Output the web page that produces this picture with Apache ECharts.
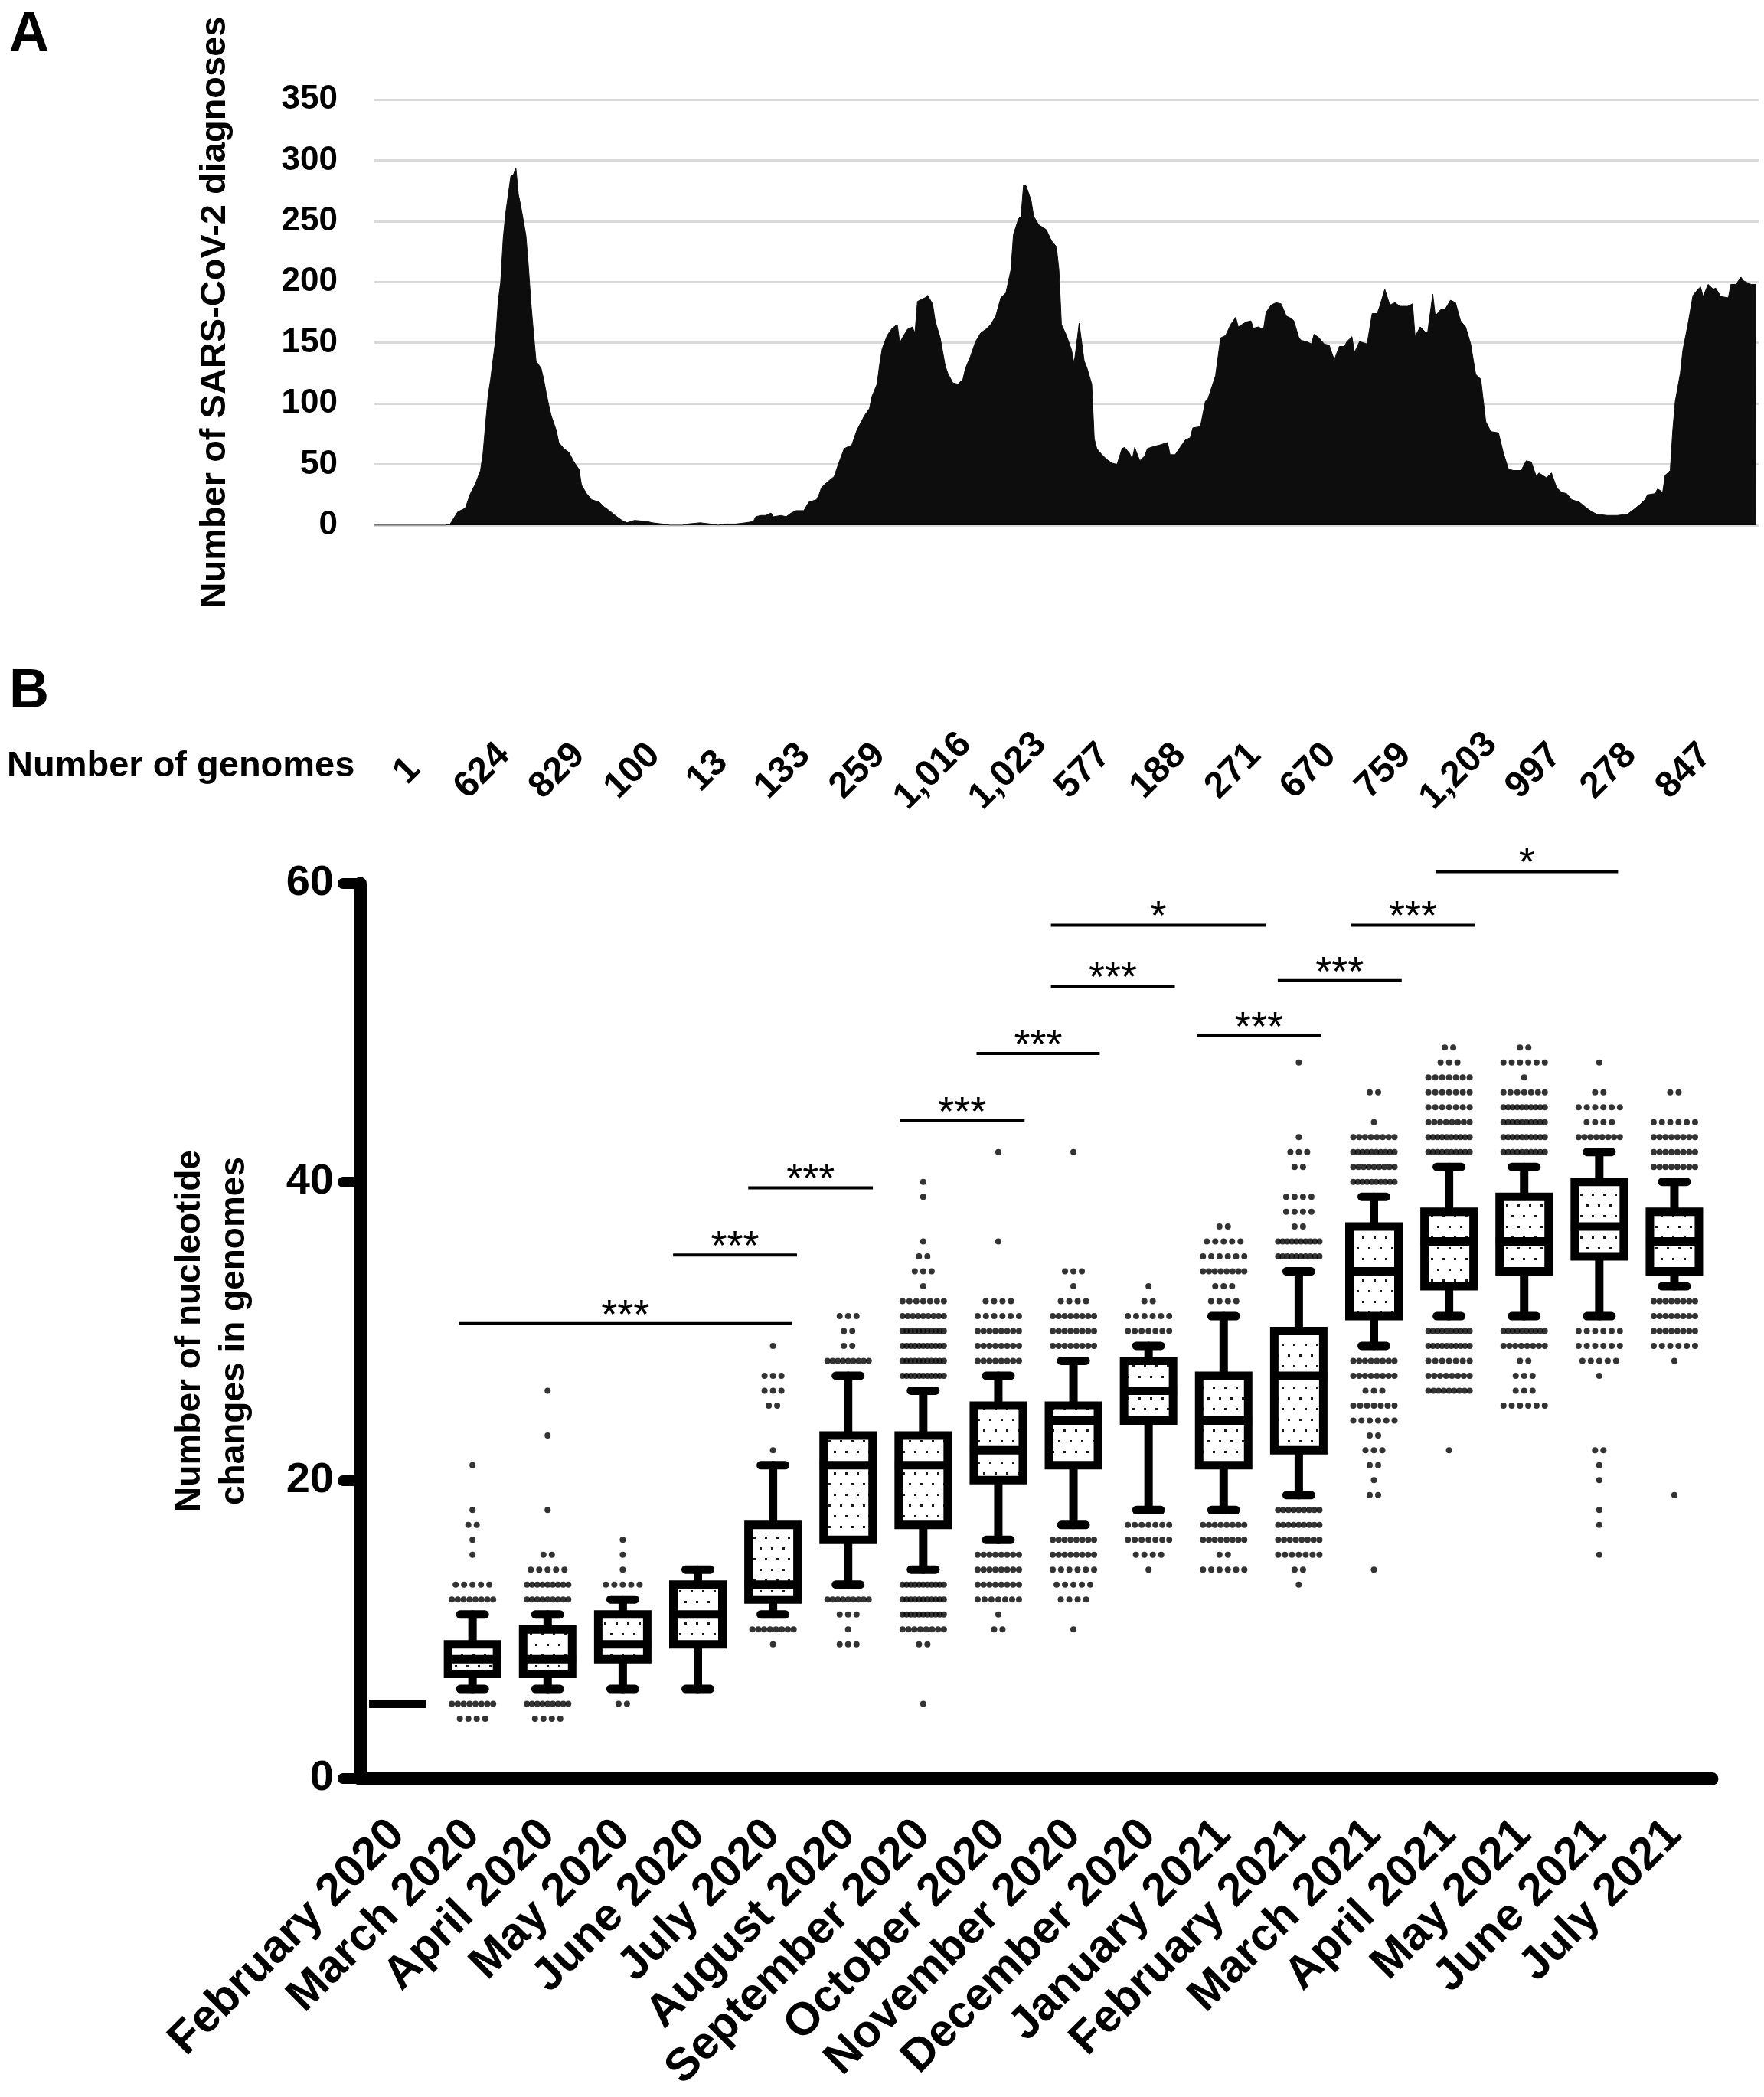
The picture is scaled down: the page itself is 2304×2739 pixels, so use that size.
<!DOCTYPE html>
<html>
<head>
<meta charset="utf-8">
<script src="https://cdn.jsdelivr.net/npm/echarts@6/dist/echarts.min.js"></script>
<style>
html, body { margin: 0; padding: 0; background: #fff; }
#main { width: 2304px; height: 2739px; }
</style>
</head>
<body>
<div id="main"></div>
<script>
"use strict";
// panel A: daily SARS-CoV-2 diagnoses (day 0 = start of February 2020)
var diagDay = [
    0, 28, 30, 33, 36, 38, 40, 42, 43, 44, 45, 46, 48, 49, 50, 51, 52, 54, 55, 56,
    57, 58, 60, 61, 62, 63, 64, 66, 67, 68, 69, 70, 72, 73, 75, 77, 79, 81, 82, 84,
    86, 89, 91, 93, 96, 98, 100, 103, 108, 110, 114, 117, 122, 124, 129, 133, 136, 139, 143, 147,
    150, 151, 153, 155, 157, 158, 161, 163, 165, 167, 170, 172, 175, 176, 177,
    179, 182, 184, 186, 189, 191, 194, 196, 197, 199, 200, 201, 203, 205, 207, 208, 209, 211, 213, 214,
    215, 218, 219, 221, 222, 224, 226, 227, 229, 231, 233, 234, 236, 238, 240, 242, 244, 246, 248, 250,
    252, 253, 255, 256, 257, 258, 260, 261, 263, 266, 268, 270, 271, 272, 274, 276, 277, 278, 279, 281,
    282, 284, 285, 286, 288, 290, 292, 294, 296, 297, 299, 300, 301, 303, 305, 306, 309, 311, 314, 315,
    317, 319, 321, 323, 324, 327, 329, 330, 333, 335, 337, 339, 341, 342, 345, 347, 348, 350, 352, 353,
    355, 357, 359, 361, 363,
    364, 366, 367, 369, 371, 372, 374, 376, 378, 380, 382, 384, 385, 387, 388, 390, 393, 395, 397, 398,
    400, 402, 404, 406, 407, 409, 411, 412, 414, 416, 417, 419, 420, 422, 424, 426, 428, 430, 432, 434,
    436, 438, 440, 442, 445, 447, 449, 451, 454, 456, 458, 460, 461, 464, 466, 468, 470, 472, 474, 477,
    480, 482, 484, 488, 492, 496, 498, 501, 503, 504, 507, 508, 510, 511, 513, 514, 515, 517, 518, 520,
    522, 524, 525, 526, 528, 530, 531, 533, 536, 537, 539, 541, 542, 545, 547
];
var diagCount = [
    0, 0, 1, 11, 14, 26, 34, 45, 59, 83, 106, 120, 153, 184, 200, 236, 257, 287, 288, 294,
    272, 262, 238, 212, 182, 158, 135, 129, 120, 109, 99, 90, 78, 68, 63, 60, 52, 46, 33, 26,
    21, 19, 15, 12, 7, 4, 2, 4, 3, 2, 1, 0, 0, 1, 2, 1, 0, 1, 1, 2,
    3, 7, 8, 8, 10, 7, 8, 7, 10, 12, 12, 19, 21, 25, 31,
    35, 40, 52, 63, 66, 78, 90, 96, 106, 116, 132, 145, 156, 162, 165, 150, 154, 161, 163, 158,
    184, 187, 189, 182, 168, 154, 131, 125, 117, 116, 120, 129, 139, 151, 158, 161, 165, 172, 187, 191,
    210, 239, 252, 254, 280, 279, 267, 254, 247, 243, 234, 229, 210, 165, 156, 144, 133, 149, 166, 135,
    130, 116, 71, 63, 58, 54, 51, 50, 63, 64, 59, 54, 64, 53, 57, 63, 65, 66, 68, 58,
    58, 64, 70, 72, 80, 81, 102, 104, 123, 154, 156, 165, 171, 163, 167, 168, 162, 163, 161, 175,
    181, 183, 182, 172, 170,
    168, 154, 152, 151, 149, 157, 154, 149, 148, 136, 147, 147, 151, 155, 142, 151, 149, 174, 174, 180,
    194, 181, 183, 180, 180, 180, 182, 155, 163, 159, 159, 190, 172, 177, 178, 185, 183, 168, 163, 149,
    124, 120, 85, 77, 76, 59, 46, 45, 45, 53, 52, 40, 43, 39, 43, 31, 27, 26, 21, 19,
    14, 11, 9, 8, 8, 9, 12, 17, 21, 25, 26, 30, 27, 41, 45, 78, 102, 125, 144, 165,
    189, 194, 196, 188, 198, 194, 195, 188, 187, 198, 198, 204, 201, 198, 198
];

// panel B
var months = ['February 2020', 'March 2020', 'April 2020', 'May 2020', 'June 2020', 'July 2020',
    'August 2020', 'September 2020', 'October 2020', 'November 2020', 'December 2020',
    'January 2021', 'February 2021', 'March 2021', 'April 2021', 'May 2021', 'June 2021', 'July 2021'];
var genomeCounts = ['1', '624', '829', '100', '13', '133', '259', '1,016', '1,023', '577', '188',
    '271', '670', '759', '1,203', '997', '278', '847'];
var whiskerLow  = [5, 6, 6, 6, 6, 11, 13, 14, 16, 17, 18, 18, 19, 29, 31, 31, 31, 33];
var quart1      = [5, 7, 7, 8, 9, 12, 16, 17, 20, 21, 24, 21, 22, 31, 33, 34, 35, 34];
var medians     = [5, 8, 8, 9, 11, 13, 21, 21, 22, 24, 26, 24, 27, 34, 36, 36, 37, 36];
var quart3      = [5, 9, 10, 11, 13, 17, 23, 23, 25, 25, 28, 27, 30, 37, 38, 39, 40, 38];
var whiskerHigh = [5, 11, 11, 12, 14, 21, 27, 26, 27, 28, 29, 31, 34, 39, 41, 41, 42, 40];
// outliers per month: [nucleotide changes, number of genomes drawn on that row]
var outlierRows = [
    [],
    [[4, 4], [5, 8], [12, 8], [13, 5], [15, 1], [16, 1], [17, 2], [18, 1], [21, 1]],
    [[4, 4], [5, 9], [12, 9], [13, 9], [14, 5], [15, 2], [18, 1], [23, 1], [26, 1]],
    [[5, 2], [13, 5], [14, 1], [15, 1], [16, 1]],
    [],
    [[9, 1], [10, 8], [22, 1], [25, 2], [26, 3], [27, 3], [29, 1]],
    [[9, 3], [10, 1], [11, 3], [12, 9], [28, 9], [29, 2], [30, 2], [31, 3]],
    [[5, 1], [9, 2], [10, 8], [11, 11], [12, 11], [13, 11], [27, 11], [28, 11], [29, 11], [30, 11],
        [31, 9], [32, 7], [33, 1], [34, 3], [35, 2], [36, 1], [39, 1], [40, 1]],
    [[10, 2], [11, 1], [12, 7], [13, 8], [14, 8], [15, 8], [28, 8], [29, 8], [30, 8], [31, 6],
        [32, 4], [36, 1], [42, 1]],
    [[10, 1], [12, 4], [13, 5], [14, 6], [15, 8], [16, 8], [29, 8], [30, 8], [31, 8], [32, 4],
        [33, 1], [34, 3], [42, 1]],
    [[14, 1], [15, 4], [16, 7], [17, 7], [30, 7], [31, 6], [32, 2], [33, 1]],
    [[14, 6], [15, 2], [16, 8], [17, 8], [32, 4], [33, 3], [34, 8], [35, 6], [36, 5], [37, 2]],
    [[13, 1], [14, 2], [15, 7], [16, 8], [17, 9], [18, 9], [35, 10], [36, 10], [37, 2], [38, 4],
        [39, 4], [41, 2], [42, 3], [43, 1], [48, 1]],
    [[14, 1], [19, 2], [20, 1], [21, 2], [22, 3], [23, 2], [24, 6], [25, 7], [26, 3], [27, 8],
        [28, 8], [40, 10], [41, 9], [42, 10], [43, 8], [44, 1], [46, 2]],
    [[22, 1], [26, 9], [27, 8], [28, 7], [29, 10], [30, 10], [42, 10], [43, 10], [44, 8], [45, 7],
        [46, 7], [47, 7], [48, 3], [49, 2]],
    [[25, 6], [26, 3], [27, 3], [28, 2], [29, 8], [30, 10], [42, 10], [43, 10], [44, 10], [45, 10],
        [46, 7], [47, 1], [48, 6], [49, 2]],
    [[15, 1], [17, 1], [18, 1], [20, 1], [21, 1], [22, 2], [27, 1], [28, 5], [29, 6], [30, 6],
        [43, 8], [44, 4], [45, 6], [46, 2], [48, 1]],
    [[19, 1], [28, 1], [29, 6], [30, 8], [31, 8], [32, 8], [41, 8], [42, 8], [43, 8], [44, 6], [46, 2]]
];
// significance bars: [from, to (month index units), height, label]
var brackets = [
    [0.82, 5.25, 30.5, '***'],
    [3.67, 5.32, 35.1, '***'],
    [4.67, 6.33, 39.6, '***'],
    [6.69, 8.35, 44.1, '***'],
    [7.71, 9.35, 48.6, '***'],
    [8.70, 10.35, 53.1, '***'],
    [8.70, 11.56, 57.2, '*'],
    [10.64, 12.30, 49.8, '***'],
    [11.72, 13.37, 53.5, '***'],
    [12.69, 14.35, 57.2, '***'],
    [13.82, 16.25, 60.8, '*']
];

var FONT = 'Liberation Sans, Arial, Helvetica, sans-serif';
var chart = echarts.init(document.getElementById('main'));

// stippled box fill
var tile = document.createElement('canvas');
tile.width = 15;
tile.height = 28;
var tctx = tile.getContext('2d');
tctx.fillStyle = '#fff';
tctx.fillRect(0, 0, 15, 28);
tctx.fillStyle = '#1a1a1a';
tctx.fillRect(2, 5, 3, 3);
tctx.fillRect(9, 19, 3, 3);
var stipple = { image: tile, repeat: 'repeat' };

var areaData = diagDay.map(function (d, i) { return [d, diagCount[i]]; });
var boxData = months.map(function (m, i) {
    return [i, whiskerLow[i], quart1[i], medians[i], quart3[i], whiskerHigh[i]];
});
var dotData = [];
outlierRows.forEach(function (rows, i) {
    rows.forEach(function (r) {
        var n = r[1];
        var step = Math.min(11, 54 / Math.max(n - 1, 1)) / 98.1;
        for (var k = 0; k < n; k++) {
            dotData.push([i + (k - (n - 1) / 2) * step, r[0]]);
        }
    });
});

function renderBox(params, api) {
    var x = api.value(0);
    var lo = api.coord([x, api.value(1)]),
        q1 = api.coord([x, api.value(2)]),
        md = api.coord([x, api.value(3)]),
        q3 = api.coord([x, api.value(4)]),
        hi = api.coord([x, api.value(5)]);
    var cx = lo[0], hw = 32, cw = 16;
    var ln = { stroke: '#000', lineWidth: 11, lineCap: 'round' };
    return {
        type: 'group',
        children: [
            { type: 'line', shape: { x1: cx, y1: lo[1], x2: cx, y2: q1[1] }, style: ln },
            { type: 'line', shape: { x1: cx, y1: q3[1], x2: cx, y2: hi[1] }, style: ln },
            { type: 'line', shape: { x1: cx - cw, y1: lo[1], x2: cx + cw, y2: lo[1] }, style: ln },
            { type: 'line', shape: { x1: cx - cw, y1: hi[1], x2: cx + cw, y2: hi[1] }, style: ln },
            {
                type: 'rect',
                shape: { x: cx - hw, y: q3[1], width: hw * 2, height: q1[1] - q3[1] },
                style: { fill: stipple, stroke: '#000', lineWidth: 11 }
            },
            { type: 'line', shape: { x1: cx - hw - 5, y1: md[1], x2: cx + hw + 5, y2: md[1] },
                style: { stroke: '#000', lineWidth: 11 } }
        ]
    };
}

function renderBracket(params, api) {
    var a = api.coord([api.value(0), api.value(2)]);
    var b = api.coord([api.value(1), api.value(2)]);
    return {
        type: 'group',
        children: [
            { type: 'line', shape: { x1: a[0], y1: a[1], x2: b[0], y2: b[1] },
                style: { stroke: '#000', lineWidth: 4 } },
            {
                type: 'text', x: (a[0] + b[0]) / 2, y: a[1] - 9,
                style: {
                    text: brackets[params.dataIndex][3], fill: '#000', fontSize: 54,
                    fontFamily: FONT, align: 'center', verticalAlign: 'middle'
                }
            }
        ]
    };
}

var option = {
    animation: false,
    backgroundColor: '#fff',
    textStyle: { fontFamily: FONT, color: '#000' },
    graphic: [
        { type: 'text', left: 12, top: 10, style: { text: 'A', font: 'bold 72px ' + FONT, fill: '#000' } },
        { type: 'text', left: 12, top: 868, style: { text: 'B', font: 'bold 72px ' + FONT, fill: '#000' } },
        { type: 'text', left: 9, top: 978, style: { text: 'Number of genomes', font: 'bold 47px ' + FONT, fill: '#000' } }
    ],
    grid: [
        { left: 489, top: 130, width: 1808, height: 556 },
        { left: 470, top: 1154, width: 1766, height: 1169 }
    ],
    xAxis: [
        { type: 'value', gridIndex: 0, min: 0, max: 548, show: false },
        {
            type: 'category', gridIndex: 1, data: months, position: 'bottom',
            axisLine: { onZero: false, lineStyle: { color: '#000', width: 17, cap: 'round' } },
            axisTick: { alignWithLabel: true, length: 26, lineStyle: { color: '#000', width: 14, cap: 'round' } },
            axisLabel: { interval: 0, rotate: 45, margin: 64, fontSize: 60, fontWeight: 'bold', color: '#000', fontFamily: FONT }
        },
        {
            type: 'category', gridIndex: 1, data: genomeCounts, position: 'top',
            axisLine: { show: false, onZero: false }, axisTick: { show: false },
            axisLabel: {
                interval: 0, rotate: -45, margin: 134, fontSize: 48, fontWeight: 'bold', color: '#000',
                fontFamily: FONT, align: 'center', verticalAlign: 'middle', padding: [0, 0, 0, 36]
            }
        },
        { type: 'value', gridIndex: 1, min: -0.5, max: 17.5, show: false }
    ],
    yAxis: [
        {
            type: 'value', gridIndex: 0, min: 0, max: 350, interval: 50,
            name: 'Number of SARS-CoV-2 diagnoses', nameLocation: 'middle', nameGap: 184,
            nameTextStyle: { fontSize: 47, fontWeight: 'bold', color: '#000', fontFamily: FONT },
            axisLine: { show: false }, axisTick: { show: false },
            axisLabel: { margin: 48, fontSize: 44, fontWeight: 'bold', color: '#000', fontFamily: FONT },
            splitLine: { lineStyle: { color: '#d9d9d9', width: 3 } }
        },
        {
            type: 'value', gridIndex: 1, min: 0, max: 60, interval: 20,
            name: 'Number of nucleotide\nchanges in genomes', nameLocation: 'middle', nameGap: 135,
            nameTextStyle: { fontSize: 46, fontWeight: 'bold', color: '#000', fontFamily: FONT, lineHeight: 58 },
            axisLine: { show: true, onZero: false, lineStyle: { color: '#000', width: 17, cap: 'round' } },
            axisTick: { show: true, length: 22, lineStyle: { color: '#000', width: 14, cap: 'round' } },
            axisLabel: { margin: 34, fontSize: 56, fontWeight: 'bold', color: '#000', fontFamily: FONT },
            splitLine: { show: false }
        }
    ],
    series: [
        {
            type: 'line', xAxisIndex: 0, yAxisIndex: 0, data: areaData,
            showSymbol: false, silent: true,
            lineStyle: { color: '#0d0d0d', width: 1 },
            areaStyle: { color: '#0d0d0d', opacity: 1 }
        },
        {
            type: 'scatter', xAxisIndex: 3, yAxisIndex: 1, data: dotData,
            symbol: 'circle', symbolSize: 8, silent: true,
            itemStyle: { color: '#000' }
        },
        {
            type: 'custom', xAxisIndex: 3, yAxisIndex: 1, data: boxData,
            renderItem: renderBox, clip: false, silent: true, z: 3
        },
        {
            type: 'custom', xAxisIndex: 3, yAxisIndex: 1,
            data: brackets.map(function (b) { return [b[0], b[1], b[2]]; }),
            renderItem: renderBracket, clip: false, silent: true, z: 4
        }
    ]
};
chart.setOption(option);
</script>
</body>
</html>
